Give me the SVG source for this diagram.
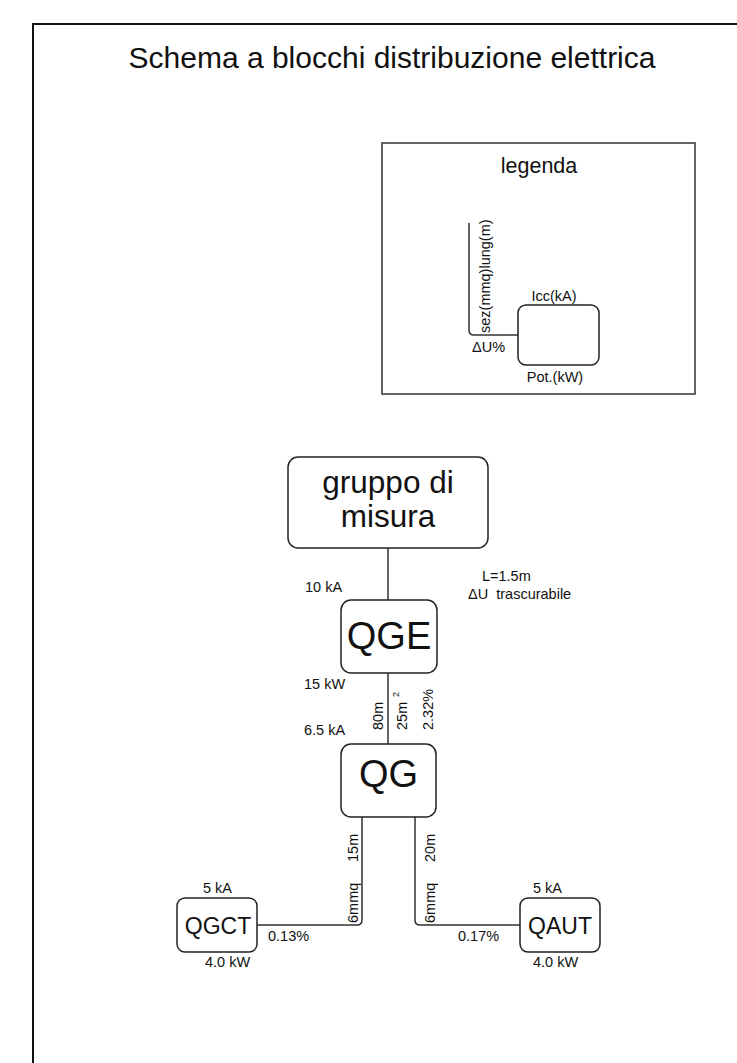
<svg xmlns="http://www.w3.org/2000/svg" width="737" height="1063" viewBox="0 0 737 1063">
<style>
text{font-family:"Liberation Sans",Arial,sans-serif;fill:#111}
.lbl{font-size:14.5px}
.box{fill:#fff;stroke:#222;stroke-width:1.5}
.wire{fill:none;stroke:#333;stroke-width:1.5}
</style>
<rect x="0" y="0" width="737" height="1063" fill="#fff"/>
<rect x="33" y="24" width="800" height="1200" fill="none" stroke="#111" stroke-width="2"/>
<text x="392" y="68" font-size="30" text-anchor="middle">Schema a blocchi distribuzione elettrica</text>
<g id="legenda">
<rect x="382" y="143" width="313" height="251" fill="none" stroke="#333" stroke-width="1.5"/>
<text x="539" y="173" font-size="21.5" text-anchor="middle">legenda</text>
<path class="wire" d="M469,223 V330 Q469,335 474,335 H518"/>
<rect class="box" x="518" y="305" width="81" height="60" rx="8"/>
<text class="lbl" transform="translate(490,333) rotate(-90)">sez(mmq)lung(m)</text>
<text class="lbl" x="554" y="301" text-anchor="middle">Icc(kA)</text>
<text class="lbl" x="472" y="352">ΔU%</text>
<text class="lbl" x="555" y="382" text-anchor="middle">Pot.(kW)</text>
</g>
<g id="connectors">
<path class="wire" d="M388,548 V600"/>
<path class="wire" d="M388,673 V744"/>
<path class="wire" d="M362,817 V920 Q362,925 357,925 H257"/>
<path class="wire" d="M415,817 V920 Q415,925 420,925 H520"/>
<text class="lbl" x="482" y="581">L=1.5m</text>
<text class="lbl" x="468" y="599" xml:space="preserve">ΔU  trascurabile</text>
<text class="lbl" transform="translate(383,730) rotate(-90)">80m</text>
<text class="lbl" transform="translate(407,730) rotate(-90)">25m</text>
<text font-size="9" transform="translate(398.5,697) rotate(-90)">2</text>
<text class="lbl" transform="translate(432.5,730) rotate(-90)">2.32%</text>
<text class="lbl" transform="translate(358,862) rotate(-90)">15m</text>
<text class="lbl" transform="translate(358,923) rotate(-90)">6mmq</text>
<text class="lbl" transform="translate(435,862) rotate(-90)">20m</text>
<text class="lbl" transform="translate(435,923) rotate(-90)">6mmq</text>
<text class="lbl" x="268" y="941">0.13%</text>
<text class="lbl" x="458" y="941">0.17%</text>
</g>
<g id="gruppo">
<rect class="box" x="288" y="457" width="200" height="91" rx="10"/>
<text x="388" y="493" font-size="31.5" text-anchor="middle">gruppo di</text>
<text x="388" y="527" font-size="31.5" text-anchor="middle">misura</text>
</g>
<g id="QGE">
<rect class="box" x="341" y="600" width="96" height="73" rx="10"/>
<text x="389" y="649" font-size="38" text-anchor="middle">QGE</text>
<text class="lbl" x="305" y="592">10 kA</text>
<text class="lbl" x="304" y="689">15 kW</text>
</g>
<g id="QG">
<rect class="box" x="341" y="744" width="95" height="73" rx="10"/>
<text x="388.5" y="787" font-size="38" text-anchor="middle">QG</text>
<text class="lbl" x="304" y="735">6.5 kA</text>
</g>
<g id="QGCT">
<rect class="box" x="177" y="898" width="80" height="54" rx="8"/>
<text x="218" y="934" font-size="23" text-anchor="middle">QGCT</text>
<text class="lbl" x="203" y="893">5 kA</text>
<text class="lbl" x="205" y="967">4.0 kW</text>
</g>
<g id="QAUT">
<rect class="box" x="520" y="898" width="80" height="54" rx="8"/>
<text x="560" y="934" font-size="23" text-anchor="middle">QAUT</text>
<text class="lbl" x="533" y="893">5 kA</text>
<text class="lbl" x="533" y="967">4.0 kW</text>
</g>
</svg>
